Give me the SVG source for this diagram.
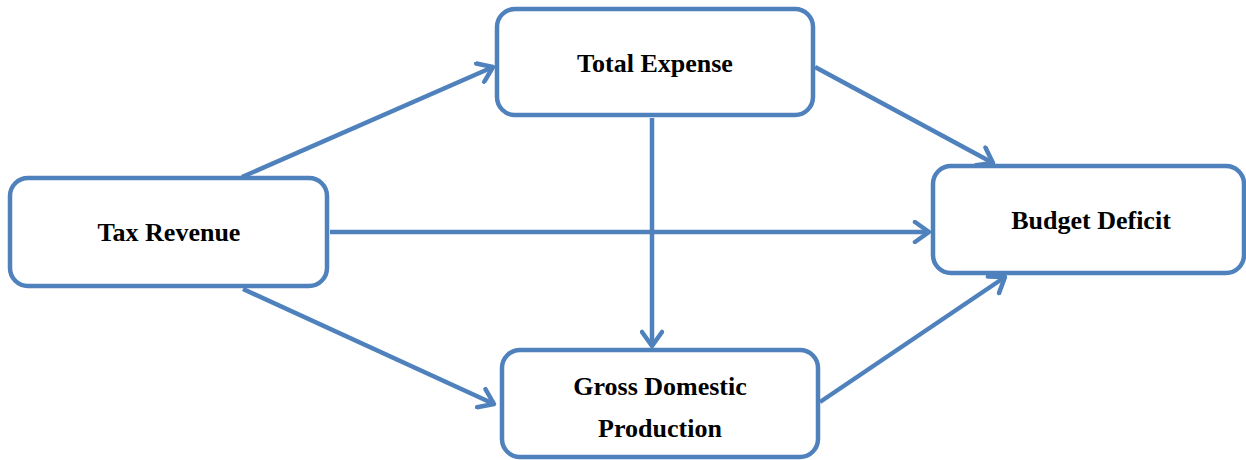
<svg xmlns="http://www.w3.org/2000/svg" width="1246" height="460" viewBox="0 0 1246 460">
<style>
.box{fill:#fff;stroke:#4F81BD;stroke-width:4.5}
.lbl{font-family:"Liberation Serif","Times New Roman",serif;font-weight:bold;font-size:26px;fill:#000;text-anchor:middle}
.edge{fill:none;stroke:#4F81BD;stroke-width:4.5;marker-end:url(#arr)}
</style>
<defs>
<marker id="arr" viewBox="0 0 24 24" refX="20" refY="12" markerWidth="24" markerHeight="24" markerUnits="userSpaceOnUse" orient="auto">
<path d="M6,2 L20,12 L6,22" fill="none" stroke="#4F81BD" stroke-width="4.5" stroke-linecap="round" stroke-linejoin="round"/>
</marker>
</defs>
<g id="connectors">
<line class="edge" x1="242" y1="177" x2="493" y2="67"/>
<line class="edge" x1="330" y1="232" x2="929" y2="232"/>
<line class="edge" x1="243" y1="289" x2="494" y2="404"/>
<line class="edge" x1="652" y1="118" x2="652" y2="346"/>
<line class="edge" x1="815" y1="67" x2="993" y2="163"/>
<line class="edge" x1="820" y1="402" x2="1005" y2="277"/>
</g>
<g id="tax-revenue">
<rect class="box" x="10" y="178" width="317" height="108" rx="18"/>
<text class="lbl" x="169" y="241">Tax Revenue</text>
</g>
<g id="total-expense">
<rect class="box" x="497" y="9" width="316" height="106" rx="18"/>
<text class="lbl" x="655" y="72">Total Expense</text>
</g>
<g id="budget-deficit">
<rect class="box" x="933" y="166" width="311" height="107" rx="18"/>
<text class="lbl" x="1091" y="229">Budget Deficit</text>
</g>
<g id="gdp">
<rect class="box" x="502" y="350" width="316" height="107" rx="18"/>
<text class="lbl" x="660" y="395">Gross Domestic</text>
<text class="lbl" x="660" y="437">Production</text>
</g>
</svg>
